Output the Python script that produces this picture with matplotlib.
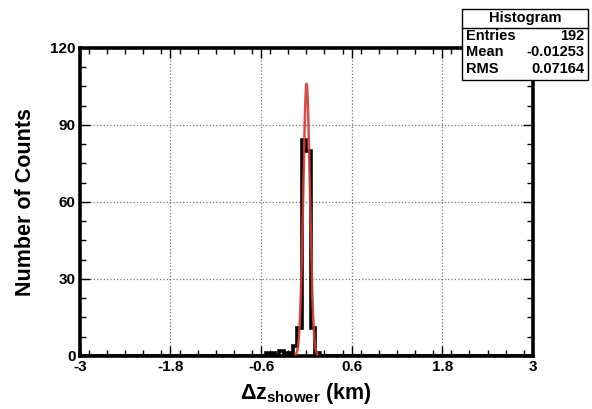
import numpy as np
import matplotlib
matplotlib.use("Agg")
import matplotlib.pyplot as plt
from matplotlib.ticker import MultipleLocator

plt.rcParams['font.family'] = ['Liberation Sans', 'DejaVu Sans']
plt.rcParams['font.weight'] = 'bold'
plt.rcParams['axes.labelweight'] = 'bold'
plt.rcParams['mathtext.fontset'] = 'custom'
plt.rcParams['mathtext.rm'] = 'Liberation Sans:bold'
plt.rcParams['mathtext.it'] = 'Liberation Sans:bold'
plt.rcParams['mathtext.bf'] = 'Liberation Sans:bold'

# histogram: 100 bins from -3 to 3 km, non-empty bins only
bin_centers = [-0.51, -0.45, -0.33, -0.27, -0.21, -0.15, -0.09, -0.03, 0.03, 0.09, 0.15]
bin_counts = [1, 1, 2, 1, 1, 4, 11, 84, 80, 11, 1]

# gaussian fit parameters (red curve)
fit_amp = 106.0
fit_mean = 0.003
fit_sigma = 0.044
fit_range = (-0.14, 0.145)

stats_rows = [("Entries", "192"), ("Mean", "-0.01253"), ("RMS", "0.07164")]

fig = plt.figure(figsize=(5.92, 4.09), dpi=100)
ax = fig.add_axes([0.135, 0.130, 0.765, 0.753])

edges = np.linspace(-3, 3, 101)
ax.hist(bin_centers, bins=edges, weights=bin_counts, histtype='step',
        color='black', lw=2.6, zorder=3)

xf = np.linspace(fit_range[0], fit_range[1], 300)
yf = fit_amp * np.exp(-0.5 * ((xf - fit_mean) / fit_sigma) ** 2)
ax.plot(xf, yf, color='#d63a32', lw=1.8, alpha=0.9, zorder=4)

ax.set_xlim(-3, 3)
ax.set_ylim(0, 120)
ax.xaxis.set_minor_locator(MultipleLocator(0.24))
ax.yaxis.set_major_locator(MultipleLocator(30))
ax.yaxis.set_minor_locator(MultipleLocator(7.5))
ax.set_xticks([-3, -1.8, -0.6, 0.6, 1.8, 3])
ax.set_xticklabels(['-3', '-1.8', '-0.6', '0.6', '1.8', '3'])
ax.tick_params(which='both', direction='in', top=True, right=True, width=1, labelsize=11)
ax.tick_params(which='major', length=7, pad=3)
ax.tick_params(which='minor', length=4)
ax.grid(True, which='major', ls=':', color='#777777', lw=0.9)
for s in ax.spines.values():
    s.set_linewidth(2.6)

ax.set_ylabel('Number of Counts', fontsize=15.5, labelpad=10)
ax.set_xlabel(r'$\Delta$z$_{\rm shower}$ (km)', fontsize=15.5, labelpad=5)

# stats box
bx0, by0, bx1, by1 = 462/592, 1 - 80/409, 588/592, 1 - 9/409
box = plt.Rectangle((bx0, by0), bx1 - bx0, by1 - by0, transform=fig.transFigure,
                    facecolor='white', edgecolor='black', lw=1.0, zorder=10)
fig.add_artist(box)
sep_y = 1 - 27.5/409
fig.add_artist(plt.Line2D([bx0, bx1], [sep_y, sep_y], transform=fig.transFigure,
                          color='black', lw=1.0, zorder=11))
fig.text((bx0 + bx1) / 2, 1 - 18/409, 'Histogram', ha='center', va='center',
         fontsize=10.5, zorder=12)
for i, (k, v) in enumerate(stats_rows):
    yy = 1 - (36 + i * 16.5) / 409
    fig.text(bx0 + 4/592, yy, k, ha='left', va='center', fontsize=10.5, zorder=12)
    fig.text(bx1 - 4/592, yy, v, ha='right', va='center', fontsize=10.5, zorder=12)

fig.savefig('out.png', dpi=100)
